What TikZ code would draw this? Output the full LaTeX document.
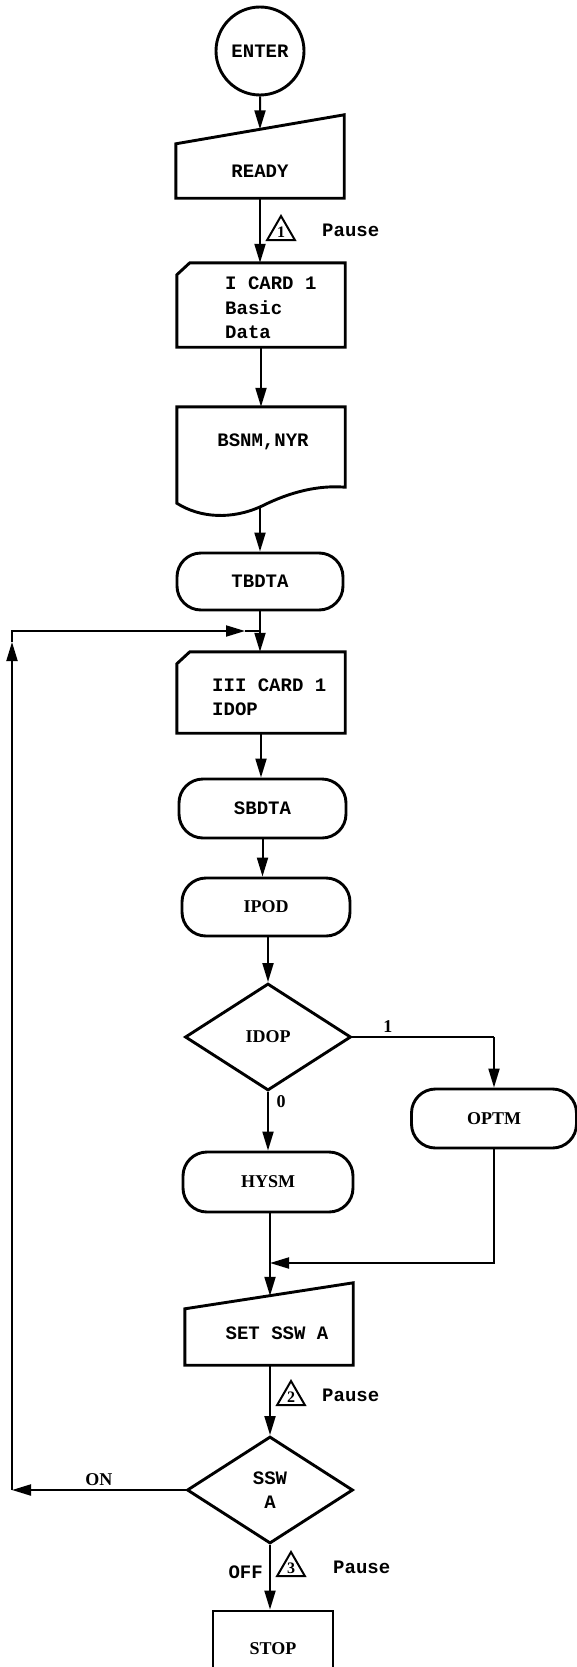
\documentclass[tikz,border=0pt]{standalone}
\usepackage{fontspec}
\newfontfamily\typefont{Liberation Mono}[BoldFont={Liberation Mono Bold}]
\newfontfamily\plainfont{Liberation Serif}[BoldFont={Liberation Serif Bold}]
\usetikzlibrary{arrows.meta,shapes.geometric,calc}
\tikzstyle{tt-font} = [font=\typefont\bfseries\fontsize{19}{24.5}\selectfont]
\tikzstyle{rm-font} = [font=\plainfont\bfseries\fontsize{18}{21}\selectfont]
\tikzstyle{box-line} = [line width=2.9pt]
\tikzstyle{plain-box} = [rectangle, minimum width=168pt, inner sep=0pt]
\tikzstyle{term-box} = [draw, box-line, rectangle, rounded corners=24pt,
    minimum width=167pt, minimum height=59pt, inner sep=0pt]
\tikzstyle{dec-box} = [draw, box-line, diamond, minimum width=166pt,
    minimum height=107pt, inner sep=0pt, align=center]
\tikzstyle{flow-line} = [line width=2pt]
\tikzstyle{flow-arrow} = [flow-line, -{Triangle[length=19pt,width=11pt]}]
\tikzstyle{pause-tri} = [draw, line width=2pt, regular polygon,
    regular polygon sides=3, minimum size=32pt, inner sep=0pt,
    font=\plainfont\bfseries\fontsize{16}{16}\selectfont]
\newcommand{\inputshape}[2]{%
    \draw[box-line] (#1.south west) -- (#1.south east)
        -- ([yshift=#2]#1.north east) -- (#1.north west) -- cycle;}
\newcommand{\cardshape}[1]{%
    \draw[box-line] (#1.south west) -- (#1.south east) -- (#1.north east)
        -- ([xshift=13pt]#1.north west) -- ([yshift=-12pt]#1.north west) -- cycle;}

\begin{document}
\begin{tikzpicture}[x=1pt, y=-1pt]
\fill[white] (0,0) rectangle (576,1667);
\useasboundingbox (0,0) rectangle (576,1667);

\node[circle, draw, box-line, minimum size=88pt, inner sep=0pt, tt-font] (enter) at (260,51) {ENTER};
\node[plain-box, minimum height=54pt, tt-font] (ready) at (260,171) {READY};
\inputshape{ready}{29pt}
\coordinate (readytop) at ($(ready.north west)!0.5!([yshift=29pt]ready.north east)$);

\node[plain-box, minimum height=84pt] (card1) at (261,305) {};
\cardshape{card1}
\node[tt-font, align=left, anchor=west, inner sep=0pt] (card1txt) at (225,308) {I CARD 1\\Basic\\Data};

\node[plain-box, minimum height=80pt] (doc) at (261,447) {};
\draw[box-line] ([yshift=-16pt]doc.south west) -- (doc.north west) -- (doc.north east)
    -- (doc.south east) .. controls (318,485) and (290,492) .. (262,506)
    .. controls (232,520) and (200,518) .. cycle;
\node[tt-font] (doctxt) at (263,442) {BSNM,NYR};
\coordinate (docwave) at (260,507);

\node[term-box, minimum width=166pt, minimum height=57pt, tt-font] (tbdta) at (260,581.5) {TBDTA};

\node[plain-box, minimum height=81pt] (card3) at (261,692.5) {};
\cardshape{card3}
\node[tt-font, align=left, anchor=west, inner sep=0pt] (card3txt) at (212,697) {III CARD 1\\IDOP};

\node[term-box, tt-font] (sbdta) at (262.5,808.5) {SBDTA};
\node[term-box, minimum width=168pt, minimum height=58pt, rm-font] (ipod) at (266,907) {IPOD};
\node[dec-box, rm-font] (idop) at (268,1037) {IDOP};
\node[term-box, minimum width=165pt, rm-font] (optm) at (494,1118.5) {OPTM};
\node[term-box, minimum width=170pt, minimum height=60pt, rm-font] (hysm) at (268,1182) {HYSM};

\node[plain-box, minimum height=56pt] (setssw) at (269,1337) {};
\inputshape{setssw}{26pt}
\node[tt-font] (setsswtxt) at (277,1333) {SET SSW A};
\coordinate (setsswtop) at ($(setssw.north west)!0.5!([yshift=26pt]setssw.north east)$);

\node[dec-box, tt-font] (sswa) at (270,1490) {SSW\\A};
\node[draw, box-line, rectangle, minimum width=120pt, minimum height=76pt, rm-font] (stop) at (273,1649) {STOP};

\coordinate (join) at (260,631);
\coordinate (loopNW) at (12,631);
\coordinate (loopSW) at (12,1490);
\coordinate (loopUp) at (12,642);
\coordinate (loopTip) at (245,631);
\coordinate (merge) at (270,1263);
\coordinate (idopturn) at (optm.north |- idop.east);

\draw[flow-arrow] (enter.south) -- (readytop);
\draw[flow-arrow] (ready.south) -- (ready.south |- card1.north);
\draw[flow-arrow] (card1.south) -- (card1.south |- doc.north);
\draw[flow-arrow] (docwave) -- (docwave |- tbdta.north);
\draw[flow-arrow] (tbdta.south) -- (tbdta.south |- card3.north);
\draw[flow-arrow] (card3.south) -- (card3.south |- sbdta.north);
\draw[flow-arrow] (sbdta.south) -- (sbdta.south |- ipod.north);
\draw[flow-arrow] (ipod.south -| idop.north) -- (idop.north);
\draw[flow-arrow] (idop.south) -- (idop.south |- hysm.north);
\draw[flow-line] (idop.east) -- node[rm-font, above, pos=0.25] (one) {1} (idopturn);
\draw[flow-arrow] (idopturn) -- (optm.north);
\node[rm-font] (zero) at (281,1102) {0};
\draw[flow-line] (hysm.south -| merge) -- (merge);
\draw[flow-arrow] (optm.south) |- (merge);
\draw[flow-arrow] (merge) -- (merge |- setsswtop);
\draw[flow-arrow] (setssw.south -| sswa.north) -- (sswa.north);
\draw[flow-arrow] (sswa.south) -- (sswa.south |- stop.north);
\draw[flow-arrow] (sswa.west) -- node[rm-font, above] (on) {ON} (loopSW);
\draw[flow-arrow] (loopSW) -- (loopUp);
\draw[flow-arrow] (loopUp) -- (loopNW) -- (loopTip);
\draw[flow-line] (loopTip) -- (join);

\node[pause-tri] (tri1) at (281,232) {1};
\node[tt-font, anchor=west, inner sep=0pt] (pause1) at (322,230) {Pause};
\node[pause-tri] (tri2) at (291,1397) {2};
\node[tt-font, anchor=west, inner sep=0pt] (pause2) at (322,1395) {Pause};
\node[tt-font, anchor=east, inner sep=0pt] (off) at (263,1572) {OFF};
\node[pause-tri] (tri3) at (291,1568) {3};
\node[tt-font, anchor=west, inner sep=0pt] (pause3) at (333,1567) {Pause};
\end{tikzpicture}
\end{document}
